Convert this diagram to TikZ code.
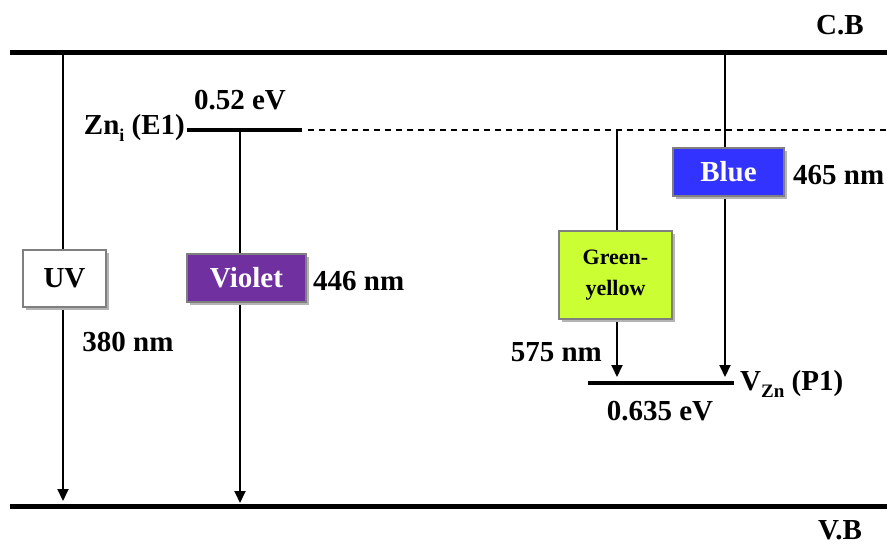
\documentclass[tikz,border=0pt]{standalone}
\usepackage{fontspec}
\setmainfont{Liberation Serif}
\usetikzlibrary{arrows.meta,shadows}

\definecolor{emviolet}{HTML}{7030A0}
\definecolor{emgreen}{HTML}{CCFF33}
\definecolor{emblue}{HTML}{3333FF}
\definecolor{boxedge}{HTML}{7F7F7F}
\definecolor{boxshade}{HTML}{B4B4B4}

\begin{document}
\begin{tikzpicture}[
    x=1pt, y=-1pt,
    font=\fontsize{29}{33}\selectfont\bfseries,
    % Styles
    band/.style={line width=5pt},
    level/.style={line width=3.5pt},
    trans/.style={line width=2pt, -{Triangle[width=11pt,length=12pt]}},
    colourbox/.style={
        rectangle, draw=boxedge, line width=1.8pt,
        inner sep=0pt, align=center,
        drop shadow={shadow xshift=3pt, shadow yshift=-3pt, fill=boxshade, opacity=1}
    },
    lbl/.style={inner sep=0pt},
]
\useasboundingbox (0,0) rectangle (887,548);

%--- Bands ---%
\coordinate (cbL) at (10,53);
\coordinate (cbR) at (887,53);
\coordinate (vbL) at (10,506);
\coordinate (vbR) at (887,506);
\draw[band] (cbL) -- (cbR);
\draw[band] (vbL) -- (vbR);
\node[lbl] (cb) at (840,25) {C.B};
\node[lbl] (vb) at (840,530) {V.B};

%--- Defect levels ---%
\coordinate (znL) at (187,130);
\coordinate (znR) at (302,130);
\coordinate (dashR) at (887,130);
\draw[level] (znL) -- (znR);
\draw[line width=1.3pt, dash pattern=on 6pt off 5pt] ([xshift=6pt]znR) -- (dashR);
\node[lbl, anchor=east] (zn) at (185,128) {Zn\raisebox{-0.22em}{\fontsize{18}{18}\selectfont i} (E1)};
\node[lbl] (znev) at (240,100) {0.52 eV};

\coordinate (vznL) at (588,383);
\coordinate (vznR) at (734,383);
\draw[level] (vznL) -- (vznR);
\node[lbl, anchor=west] (vzn) at (740,384) {V\raisebox{-0.25em}{\fontsize{19}{19}\selectfont Zn} (P1)};
\node[lbl] (vznev) at (660,411) {0.635 eV};

%--- Transitions ---
% arrow top / bottom ends
\coordinate (uvtop)  at (63,53);   \coordinate (uvbot)  at (63,506);
\coordinate (viotop) at (240,130); \coordinate (viobot) at (240,506);
\coordinate (grtop)  at (617,130); \coordinate (grbot)  at (617,383);
\coordinate (bltop)  at (725,53);  \coordinate (blbot)  at (725,383);

\draw[trans, shorten >=5pt] (uvtop) -- (uvbot);
\draw[trans, shorten >=3pt] (viotop) -- (viobot);
\draw[trans, shorten >=6pt] (grtop) -- (grbot);
\draw[trans, shorten >=6pt] (bltop) -- (blbot);

%--- Emission boxes ---
\node[colourbox, fill=white, minimum width=83pt, minimum height=57pt] (uv) at (64.5,278.5) {UV};
\node[colourbox, fill=emviolet, text=white, minimum width=119pt, minimum height=48pt] (violet) at (246.5,278) {Violet};
\node[colourbox, fill=emgreen, minimum width=113pt, minimum height=88pt,
      font=\fontsize{22}{31}\selectfont\bfseries] (green) at (615.5,275) {Green-\\yellow};
\node[colourbox, fill=emblue, text=white, minimum width=111pt, minimum height=48pt] (blue) at (728.5,172) {Blue};

%--- Wavelengths ---
\node[lbl] (uvnm) at (128,342) {380 nm};
\node[lbl, anchor=west] (vionm) at (313,281) {446 nm};
\node[lbl, anchor=east] (grnm) at (602,352) {575 nm};
\node[lbl, anchor=west] (blnm) at (793,175) {465 nm};

\end{tikzpicture}
\end{document}
